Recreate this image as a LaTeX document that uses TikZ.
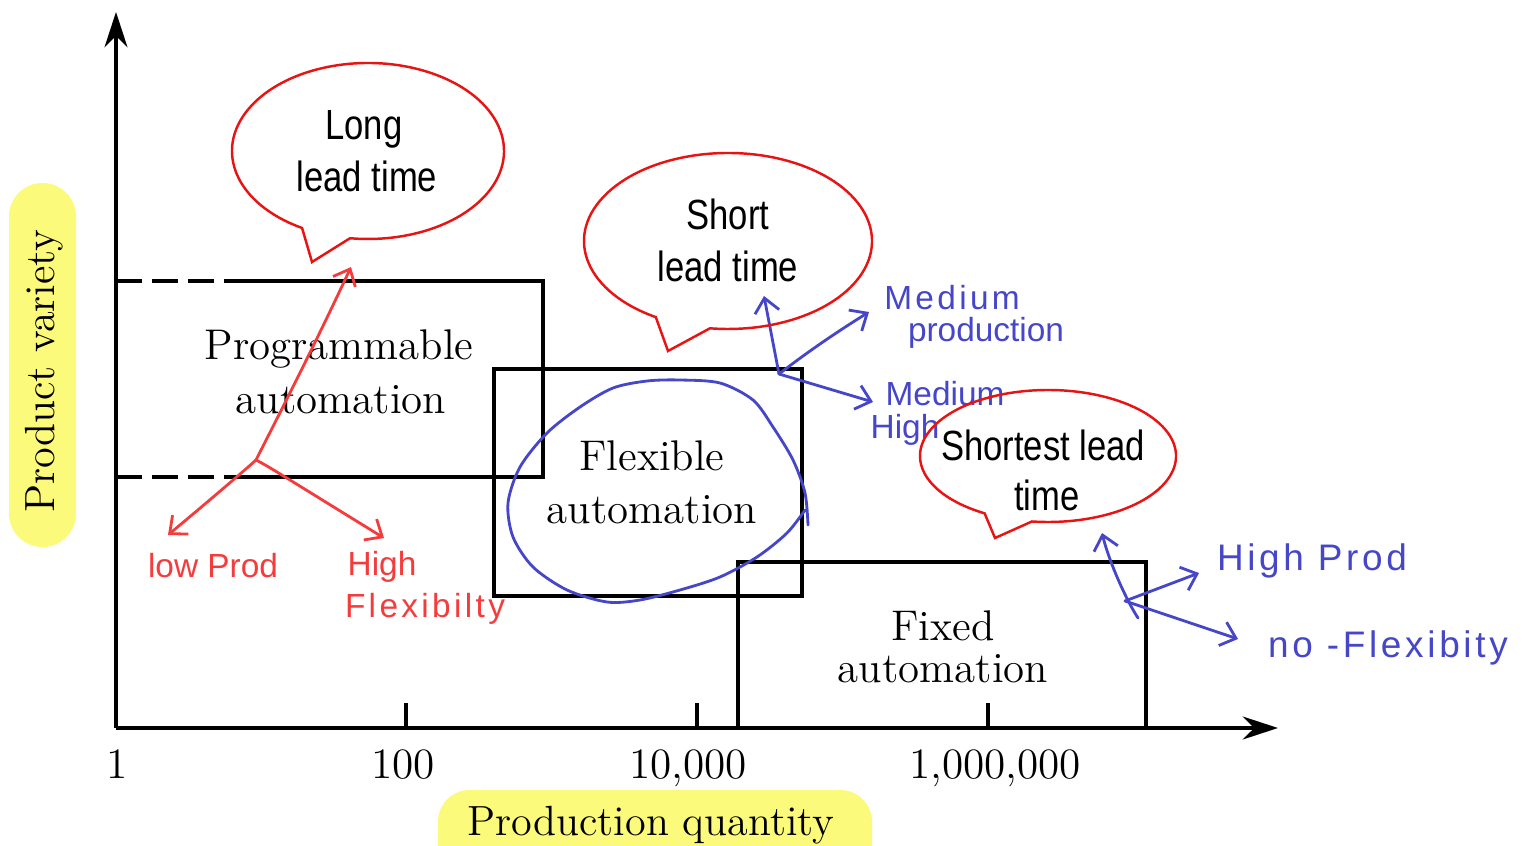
\documentclass[tikz,border=0pt]{standalone}
\usepackage{fontspec}
\usetikzlibrary{arrows.meta,calc}
\newfontfamily\bubfont[FakeStretch=0.82]{Liberation Sans}
\newfontfamily\handfont[LetterSpace=10]{Liberation Sans}
\newfontfamily\handfontb{Liberation Sans}
\definecolor{bubred}{RGB}{232,20,20}
\definecolor{handred}{RGB}{244,60,60}
\definecolor{handblue}{RGB}{70,70,200}
\definecolor{pillyellow}{RGB}{252,250,122}
\begin{document}
\begin{tikzpicture}[x=0.01cm,y=-0.01cm,
  box/.style={line width=0.95pt, draw=black},
  axis/.style={line width=1.05pt, draw=black, -{Stealth[length=10pt,width=6.5pt]}},
  bubble/.style={draw=bubred, line width=0.7pt, line join=miter},
  bubtext/.style={font=\bubfont\fontsize{12}{14}\selectfont, anchor=base, inner sep=0pt},
  boxtext/.style={font=\fontsize{12.2}{14}\selectfont, anchor=base, inner sep=0pt},
  ticklab/.style={font=\fontsize{12.3}{14}\selectfont, anchor=base, inner sep=0pt},
  redhand/.style={draw=handred, line width=0.8pt, line cap=round, line join=round},
  bluehand/.style={draw=handblue, line width=0.8pt, line cap=round, line join=round},
  redtext/.style={text=handred, font=\handfontb\fontsize{9.5}{11}\selectfont, anchor=base, inner sep=0pt},
  redtextsp/.style={text=handred, font=\handfont\fontsize{9.5}{11}\selectfont, anchor=base, inner sep=0pt},
  bluetext/.style={text=handblue, font=\handfont\fontsize{9.5}{11}\selectfont, anchor=base, inner sep=0pt},
  bluetextb/.style={text=handblue, font=\handfontb\fontsize{9.5}{11}\selectfont, anchor=base, inner sep=0pt},
  bluetextl/.style={text=handblue, font=\handfont\fontsize{10.5}{12}\selectfont, anchor=base, inner sep=0pt},
  handtip/.style={-{Straight Barb[length=4pt,width=7pt]}},
  pilltext/.style={font=\fontsize{12}{14}\selectfont, inner sep=0pt}]

\useasboundingbox (0,0) rectangle (1525,846);

% yellow label pills
\fill[pillyellow, rounded corners=9.5pt] (9,183) rectangle (76,547);
\node[pilltext, rotate=90] (pv) at (44,371) {Product variety};
\fill[pillyellow, rounded corners=9pt] (438,790) rectangle (872,880);
\node[pilltext, anchor=base] (pq) at (651,835) {Production quantity};

% axes
\coordinate (O) at (116,728);
\coordinate (ytip) at (116,12);
\coordinate (xtip) at (1278,728);
\draw[axis] (O) -- (ytip);
\draw[axis] (O) -- (xtip);

% ticks
\draw[box] (406,703) -- (406,728);
\draw[box] (697,703) -- (697,728);
\draw[box] (988,703) -- (988,728);
\node[ticklab] (t1) at (117,778) {1};
\node[ticklab] (t100) at (403,778) {100};
\node[ticklab] (t1e4) at (688,778) {10,000};
\node[ticklab] (t1e6) at (995,778) {1,000,000};

% programmable box
\draw[box, dash pattern=on 7.4pt off 2.8pt] (116,281) -- (222,281);
\draw[box, dash pattern=on 7.4pt off 2.8pt] (116,477) -- (222,477);
\draw[box] (224,281) -- (543,281) -- (543,477) -- (224,477);
% flexible box
\draw[box] (494,369) rectangle (802,596);
% fixed box
\draw[box] (738,562) rectangle (1146,728);

\node[boxtext] (pa1) at (339,360) {Programmable};
\node[boxtext] (pa2) at (341,413) {automation};
\node[boxtext] (fa1) at (652,470) {Flexible};
\node[boxtext] (fa2) at (652,523) {automation};
\node[boxtext] (xa1) at (943,640) {Fixed};
\node[boxtext] (xa2) at (943,682) {automation};

% red hand annotations
\coordinate (rp) at (256,460);
\coordinate (rtop) at (351,267);
\coordinate (rl) at (168,535);
\coordinate (rr) at (384,538);
\draw[redhand, handtip] (rp) .. controls (266,440) and (310,355) .. (rtop);
\draw[redhand, handtip] (rp) .. controls (245,470) and (210,500) .. (rl);
\draw[redhand, handtip] (rp) .. controls (268,466) and (280,474) .. (rr);
\node[redtext] (lowprod) at (213,577) {low Prod};
\node[redtext] (hf1) at (382,575) {High};
\node[redtextsp] (hf2) at (425,617) {Flexibilty};

% blue hand annotations
\draw[bluehand] plot[smooth] coordinates {(808,525) (805,493) (793,460) (773,427) (753,400) (720,383) (680,380) (647,381) (613,388) (580,407) (547,433) (520,467) (508,503) (513,537) (533,567) (567,590) (607,602) (640,600) (680,590) (720,577) (757,557) (787,533) (805,510)};
\coordinate (bp) at (779,374);
\coordinate (bup) at (764,296);
\coordinate (bmp) at (869,312);
\coordinate (bmh) at (873,402);
\draw[bluehand, handtip] (bp) -- (bup);
\draw[bluehand, handtip] (bp) .. controls (810,350) and (840,330) .. (bmp);
\draw[bluehand, handtip] (bp) -- (bmh);
\node[bluetext] (mp1) at (952,310) {Medium};
\node[bluetextb] (mp2) at (986,342) {production};
\node[bluetextb] (mh1) at (945,405) {Medium};
\node[bluetextb] (mh2) at (905,438) {High};

\coordinate (bq) at (1125,601);
\coordinate (bqtail) at (1138,618);
\coordinate (bqup) at (1102,533);
\coordinate (bqhp) at (1199,573);
\coordinate (bqnf) at (1238,639);
\draw[bluehand, handtip] (bqtail) .. controls (1128,603) and (1110,565) .. (bqup);
\draw[bluehand, handtip] (bq) -- (bqhp);
\draw[bluehand, handtip] (bq) -- (bqnf);
\node[bluetextl] (hp) at (1312,570) {High Prod};
\node[bluetextl] (nf) at (1388,657) {no -Flexibity};

% callouts
\draw[bubble] (368,151) ++(119:136 and 88) arc[start angle=119, end angle=457.6, x radius=136, y radius=88] -- (312,262) -- cycle;
\draw[bubble] (728,241) ++(120.1:144 and 88) arc[start angle=120.1, end angle=457.2, x radius=144, y radius=88] -- (668,351) -- cycle;
\draw[bubble] (1048,456) ++(119.7:128 and 66) arc[start angle=119.7, end angle=457.2, x radius=128, y radius=66] -- (995,538) -- cycle;

\node[bubtext] (l1) at (364,140) {Long};
\node[bubtext] (l2) at (367,192) {lead time};
\node[bubtext] (s1) at (728,230) {Short};
\node[bubtext] (s2) at (728,282) {lead time};
\node[bubtext] (h1) at (1043,460) {Shortest lead};
\node[bubtext] (h2) at (1047,510) {time};
\end{tikzpicture}
\end{document}
